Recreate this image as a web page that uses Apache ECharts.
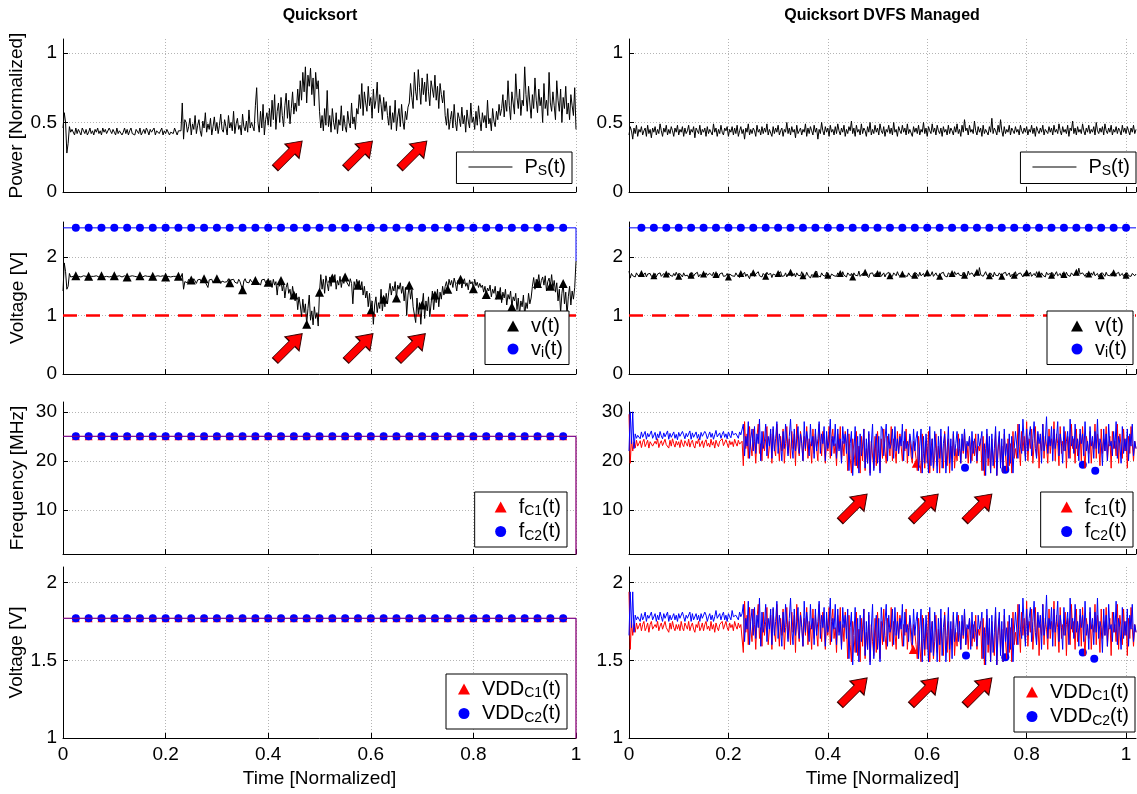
<!DOCTYPE html>
<html>
<head>
<meta charset="utf-8">
<script src="https://cdn.jsdelivr.net/npm/echarts@6/dist/echarts.min.js"></script>
<style>
  html, body { margin: 0; padding: 0; background: #fff; }
  #main { width: 1137px; height: 794px; }
</style>
</head>
<body>
<div id="main"></div>
<script>
// ---- data (sample step 0.0025 of normalized time) ----
// left column: Quicksort (t = 0..1), right column: Quicksort DVFS Managed (t = 0..1.02)
var powerLeft = [0.46,0.57,0.50,0.28,0.35,0.47,0.43,0.45,
  0.44,0.41,0.46,0.42,0.45,0.43,0.41,0.46,0.44,0.42,
  0.45,0.41,0.43,0.46,0.42,0.44,0.41,0.45,0.43,0.46,
  0.42,0.44,0.41,0.46,0.43,0.45,0.42,0.41,0.46,0.44,
  0.42,0.45,0.43,0.41,0.46,0.42,0.44,0.45,0.41,0.43,
  0.46,0.42,0.45,0.41,0.44,0.46,0.42,0.43,0.41,0.45,
  0.44,0.42,0.46,0.41,0.43,0.45,0.42,0.46,0.44,0.41,
  0.45,0.43,0.42,0.46,0.41,0.44,0.45,0.42,0.43,0.46,
  0.41,0.44,0.42,0.45,0.46,0.41,0.43,0.44,0.42,0.46,
  0.45,0.41,0.44,0.43,
  0.44,0.64,0.38,0.52,
  0.50,0.43,0.47,0.53,0.41,0.49,0.45,0.55,0.42,0.48,
  0.52,0.44,0.40,0.51,0.46,0.57,0.43,0.49,0.45,0.53,
  0.41,0.47,0.54,0.44,0.50,0.42,0.48,0.56,0.45,0.43,
  0.52,0.47,0.41,0.55,0.46,0.50,0.44,0.58,0.42,0.49,
  0.53,0.45,0.48,0.41,0.56,0.47,0.44,0.51,0.43,0.59,
  0.46,0.50,
  0.47,0.44,0.62,0.75,0.50,0.43,0.58,0.46,0.63,0.41,0.52,0.57,0.48,
  0.60,0.47,0.66,0.52,0.70,0.45,0.58,0.64,0.50,0.68,0.55,0.47,
  0.62,0.71,0.53,0.66,0.49,0.60,0.72,0.56,0.64,0.58,0.74,0.62,
  0.80,0.66,0.86,0.72,0.90,0.64,0.84,0.76,0.89,0.70,0.82,0.62,0.86,0.74,0.80,
  0.58,0.46,0.55,0.44,0.60,0.48,
  0.73,0.47,0.55,0.43,0.60,0.50,0.45,0.57,0.42,0.52,0.48,0.62,
  0.44,0.55,0.47,0.43,0.58,0.50,0.46,0.64,0.49,0.54,0.45,0.60,
  0.56,0.70,0.60,0.78,0.55,0.72,0.64,0.58,0.76,0.62,0.68,0.53,
  0.74,0.60,0.66,0.79,0.57,0.70,0.63,0.52,0.68,0.58,0.65,0.55,
  0.48,0.62,0.45,0.57,0.50,0.66,0.44,0.54,0.60,0.47,0.63,0.51,0.45,0.58,0.52,0.61,
  0.64,0.78,0.68,0.60,0.86,0.72,0.66,0.88,0.75,0.63,0.82,0.70,0.79,0.65,
  0.85,0.72,0.62,0.80,0.74,0.68,0.84,0.66,0.76,0.60,0.78,0.70,0.64,0.73,
  0.55,0.48,0.60,0.45,0.52,0.58,0.46,0.63,0.50,0.44,
  0.57,0.53,0.47,0.61,0.49,0.55,0.43,0.59,0.51,0.46,
  0.64,0.50,0.54,0.45,0.58,0.48,0.62,0.52,0.44,0.57,
  0.50,0.55,0.46,0.66,0.49,0.53,0.44,0.60,0.51,0.47,
  0.58,0.52,0.63,0.55,
  0.60,0.70,0.54,0.66,0.58,0.80,0.62,0.52,0.72,0.64,
  0.56,0.85,0.68,0.60,0.74,0.55,0.66,0.62,0.90,0.70,
  0.58,0.76,0.64,0.53,0.70,0.60,0.82,0.66,0.57,0.74,
  0.62,0.68,0.50,0.78,0.60,0.66,0.55,0.86,0.64,0.58,
  0.72,0.62,0.52,0.80,0.66,0.58,0.74,0.50,0.68,0.60,
  0.76,0.56,0.64,0.52,0.70,0.62,0.55,0.75,
  0.45];

var voltLeft = [1.42,1.90,1.75,1.45,1.50,1.72,1.66,1.68,
  1.67,1.66,1.68,1.67,1.67,1.68,1.66,1.67,1.68,1.66,
  1.67,1.68,1.67,1.66,1.67,1.68,1.67,1.66,1.68,1.67,
  1.66,1.67,1.68,1.67,1.66,1.68,1.67,1.67,1.66,1.68,
  1.67,1.66,1.68,1.67,1.67,1.66,1.68,1.67,1.66,1.67,
  1.68,1.67,1.66,1.68,1.67,1.67,1.68,1.66,1.67,1.68,
  1.66,1.67,1.68,1.67,1.66,1.67,1.68,1.66,1.67,1.68,
  1.67,1.66,1.67,1.68,1.67,1.66,1.68,1.67,1.67,1.66,
  1.68,1.67,1.66,1.68,1.67,1.67,1.66,1.68,1.67,1.66,
  1.67,1.68,1.67,1.66,
  1.66,1.72,1.45,1.58,
  1.60,1.56,1.62,1.58,1.61,1.57,1.63,1.59,1.55,1.61,
  1.58,1.62,1.56,1.60,1.63,1.57,1.59,1.48,1.61,1.58,
  1.62,1.56,1.60,1.59,1.63,1.57,1.61,1.55,1.59,1.62,
  1.57,1.60,1.58,1.63,1.56,1.61,1.59,1.62,1.57,1.60,
  1.55,1.62,1.58,1.61,1.44,1.59,1.63,1.57,1.60,1.56,
  1.62,1.58,1.61,1.55,1.60,1.63,1.57,1.59,1.52,1.61,
  1.58,1.62,1.56,1.60,1.57,
  1.55,1.60,1.48,1.62,1.52,1.58,1.35,1.57,1.50,1.60,
  1.42,1.55,1.30,1.48,1.56,1.38,1.45,1.28,1.50,1.35,
  1.25,1.38,1.10,1.32,1.18,0.98,1.28,1.05,1.20,0.85,
  1.12,1.35,0.92,1.08,0.84,1.15,0.95,1.05,0.82,
  1.40,1.70,1.45,1.62,1.38,1.68,1.55,1.42,1.66,1.50,1.64,
  1.58,1.70,1.45,1.60,1.52,1.67,1.48,1.62,1.55,1.66,1.58,
  1.60,1.50,1.63,1.55,1.20,1.58,1.48,1.62,1.52,1.60,1.44,1.58,1.35,1.50,
  1.30,1.42,1.15,1.38,1.08,1.25,0.85,1.18,1.32,
  1.05,1.22,1.12,1.45,1.08,1.28,1.15,1.38,1.20,
  1.40,1.55,1.35,1.50,1.42,1.58,1.30,1.52,1.45,1.56,
  1.38,1.50,1.25,1.48,1.00,1.35,1.52,1.28,1.44,1.15,
  1.12,0.88,1.30,1.02,1.22,0.85,1.18,1.38,0.95,1.25,1.08,1.32,
  0.98,1.20,1.42,1.10,1.35,1.22,1.45,1.15,1.40,1.28,1.50,1.35,
  1.50,1.58,1.45,1.62,1.52,1.60,1.48,1.64,1.55,1.42,1.60,1.53,1.62,1.47,
  1.58,1.63,1.50,1.56,1.44,1.61,1.54,1.58,1.46,1.62,1.51,1.57,1.48,1.55,
  1.48,1.52,1.40,1.50,1.36,1.47,1.42,1.52,1.32,1.45,1.38,1.50,1.28,1.42,
  1.35,1.48,1.22,1.40,1.30,1.45,1.18,1.36,1.28,1.42,1.15,1.32,1.25,1.38,
  1.10,1.30,1.02,1.25,1.15,1.35,1.00,1.22,1.12,1.38,1.20,1.30,
  1.50,1.65,1.45,1.62,1.55,1.70,1.48,1.60,1.66,1.52,
  1.68,1.42,1.58,1.64,1.50,1.70,1.46,1.60,1.40,1.56,
  1.25,1.45,1.05,1.38,1.55,1.20,1.40,1.00,1.32,1.50,1.18,1.42,1.28,1.48,
  1.93];

var powerRight = [0.41,0.47,0.44,0.38,0.46,0.42,0.48,0.40,0.45,0.43,
  0.47,0.41,0.44,0.46,0.40,0.48,0.42,0.45,0.39,0.46,
  0.43,0.47,0.41,0.45,0.42,0.49,0.44,0.40,0.46,0.43,
  0.48,0.41,0.45,0.42,0.47,0.44,0.40,0.46,0.43,0.48,
  0.41,0.45,0.43,0.47,0.40,0.46,0.42,0.44,0.48,0.41,
  0.45,0.43,0.47,0.39,0.46,0.44,0.42,0.48,0.41,0.45,
  0.43,0.46,0.40,0.47,0.42,0.45,0.44,0.41,0.49,0.43,
  0.46,0.40,0.45,0.42,0.48,0.43,0.41,0.46,0.44,0.47,
  0.40,0.45,0.43,0.47,0.41,0.46,0.42,0.48,0.40,0.44,
  0.47,0.42,0.45,0.38,0.46,0.43,0.49,0.41,0.45,0.42,
  0.46,0.44,0.40,0.48,0.43,0.45,0.41,0.47,0.42,0.46,
  0.43,0.49,0.41,0.45,0.44,0.40,0.47,0.42,0.46,0.43,
  0.48,0.41,0.44,0.46,0.40,0.45,0.43,0.50,0.42,0.46,
  0.41,0.47,0.43,0.45,0.39,0.48,0.42,0.44,0.46,0.41,
  0.45,0.43,0.49,0.40,0.46,0.42,0.47,0.44,0.41,0.48,
  0.43,0.46,0.38,0.45,0.42,0.50,0.44,0.41,0.47,0.43,
  0.46,0.40,0.48,0.43,0.45,0.41,0.47,0.42,0.49,0.44,
  0.41,0.46,0.43,0.48,0.40,0.45,0.42,0.47,0.44,0.51,
  0.42,0.46,0.40,0.48,0.43,0.45,0.41,0.49,0.42,0.46,
  0.44,0.40,0.47,0.43,0.50,0.41,0.45,0.42,0.48,0.43,
  0.46,0.41,0.49,0.44,0.42,0.47,0.40,0.45,0.43,0.48,
  0.42,0.46,0.41,0.50,0.43,0.45,0.40,0.47,0.44,0.42,
  0.48,0.43,0.46,0.41,0.49,0.42,0.45,0.44,0.40,0.47,
  0.43,0.46,0.42,0.48,0.41,0.45,0.43,0.50,0.42,0.46,
  0.40,0.47,0.44,0.42,0.49,0.43,0.46,0.41,0.48,0.44,
  0.42,0.46,0.40,0.47,0.43,0.45,0.41,0.48,0.42,0.46,
  0.44,0.41,0.47,0.43,0.49,0.42,0.45,0.40,0.48,0.43,
  0.52,0.44,0.46,0.41,0.48,0.43,0.45,0.42,0.51,0.44,
  0.41,0.47,0.43,0.46,0.40,0.48,0.42,0.45,0.44,0.41,
  0.47,0.43,0.53,0.42,0.46,0.44,0.41,0.48,0.43,0.52,
  0.44,0.40,0.47,0.42,0.45,0.43,0.48,0.41,0.46,0.44,
  0.42,0.47,0.43,0.45,0.41,0.48,0.44,0.42,0.46,0.43,
  0.47,0.41,0.45,0.43,0.48,0.42,0.46,0.40,0.47,0.44,
  0.42,0.46,0.43,0.48,0.41,0.45,0.44,0.42,0.47,0.43,
  0.46,0.41,0.48,0.43,0.45,0.42,0.49,0.44,0.41,0.47,
  0.43,0.45,0.42,0.48,0.40,0.46,0.44,0.51,0.42,0.46,
  0.41,0.47,0.43,0.45,0.42,0.49,0.44,0.41,0.46,0.43,
  0.48,0.42,0.45,0.43,0.47,0.41,0.50,0.44,0.42,0.46,
  0.43,0.47,0.41,0.49,0.44,0.42,0.46,0.43,0.48,0.41,
  0.45,0.43,0.47,0.42,0.46,0.44,0.41,0.48,0.43,0.46,
  0.42,0.47,0.44,0.41,0.46,0.43,0.48,0.42,0.45];

var voltRight = [1.76,1.64,1.72,1.68,1.71,1.66,1.73,1.69,1.70,1.67,
  1.72,1.68,1.70,1.73,1.66,1.71,1.69,1.72,1.67,1.70,
  1.68,1.72,1.66,1.71,1.69,1.73,1.67,1.70,1.72,1.68,
  1.71,1.66,1.73,1.69,1.70,1.67,1.72,1.68,1.74,1.69,
  1.67,1.72,1.70,1.66,1.73,1.68,1.71,1.69,1.65,1.72,
  1.69,1.73,1.67,1.71,1.68,1.74,1.66,1.70,1.72,1.68,
  1.71,1.67,1.73,1.69,1.66,1.72,1.70,1.68,1.74,1.67,
  1.70,1.72,1.65,1.71,1.69,1.73,1.67,1.70,1.68,1.72,
  1.66,1.71,1.74,1.68,1.70,1.67,1.73,1.69,1.71,1.65,
  1.72,1.68,1.70,1.74,1.67,1.71,1.69,1.63,1.72,1.68,
  1.73,1.67,1.71,1.69,1.75,1.68,1.70,1.66,1.72,1.69,
  1.67,1.74,1.70,1.68,1.72,1.65,1.71,1.73,1.69,1.67,
  1.72,1.69,1.75,1.67,1.70,1.68,1.73,1.66,1.71,1.69,
  1.74,1.67,1.70,1.72,1.66,1.73,1.69,1.71,1.68,1.75,
  1.68,1.71,1.67,1.74,1.69,1.72,1.64,1.70,1.73,1.68,
  1.71,1.76,1.68,1.70,1.66,1.73,1.69,1.72,1.67,1.74,
  1.69,1.72,1.66,1.71,1.74,1.68,1.70,1.67,1.73,1.69,
  1.72,1.67,1.75,1.69,1.71,1.66,1.73,1.70,1.68,1.72,
  1.66,1.73,1.69,1.71,1.68,1.76,1.67,1.70,1.72,1.68,
  1.74,1.69,1.71,1.65,1.72,1.70,1.73,1.67,1.71,1.69,
  1.72,1.68,1.75,1.67,1.70,1.73,1.66,1.71,1.69,1.74,
  1.68,1.71,1.67,1.73,1.70,1.68,1.75,1.69,1.72,1.66,
  1.71,1.74,1.68,1.70,1.67,1.73,1.69,1.71,1.65,1.72,
  1.69,1.73,1.70,1.67,1.74,1.68,1.71,1.72,1.66,1.70,
  1.73,1.68,1.71,1.69,1.75,1.67,1.70,1.73,1.68,1.71,
  1.67,1.72,1.69,1.74,1.68,1.70,1.66,1.73,1.71,1.69,
  1.72,1.68,1.75,1.70,1.67,1.73,1.69,1.71,1.68,1.74,
  1.69,1.72,1.67,1.76,1.70,1.68,1.73,1.71,1.66,1.72,
  1.74,1.69,1.82,1.70,1.73,1.67,1.71,1.75,1.69,1.72,
  1.68,1.73,1.70,1.66,1.74,1.69,1.71,1.68,1.73,1.70,
  1.67,1.72,1.69,1.74,1.68,1.71,1.73,1.66,1.70,1.72,
  1.69,1.75,1.67,1.71,1.68,1.73,1.70,1.66,1.72,1.69,
  1.73,1.68,1.71,1.74,1.67,1.70,1.72,1.68,1.75,1.69,
  1.71,1.67,1.73,1.69,1.72,1.66,1.74,1.70,1.68,1.72,
  1.69,1.73,1.67,1.71,1.75,1.68,1.70,1.72,1.66,1.73,
  1.70,1.68,1.74,1.69,1.71,1.67,1.73,1.70,1.68,1.72,
  1.74,1.69,1.81,1.71,1.68,1.73,1.70,1.67,1.72,1.69,
  1.71,1.67,1.73,1.69,1.75,1.68,1.70,1.72,1.66,1.71,
  1.68,1.73,1.70,1.67,1.74,1.69,1.71,1.68,1.72,1.70,
  1.73,1.67,1.71,1.69,1.74,1.68,1.70,1.72,1.67,1.71,
  1.69,1.73,1.68,1.71,1.67,1.72,1.70,1.68,1.71];

var freqC1Right = [29.5,19.5,24.5,22.0,23.8,22.6,24.2,23.0,
  23.2,24.1,22.7,23.8,24.4,22.9,23.5,24.2,22.6,23.9,
  24.3,23.0,22.8,24.0,23.4,24.5,22.7,23.6,24.1,23.1,
  22.9,24.4,23.3,23.7,22.6,24.2,23.0,24.5,23.5,22.8,
  24.0,23.2,23.9,22.7,24.3,23.4,22.9,24.1,23.6,23.0,
  24.4,22.8,23.7,24.2,23.1,22.6,24.0,23.5,24.5,22.9,
  23.3,24.1,22.7,23.8,24.3,23.0,23.6,22.8,24.4,23.2,
  23.9,22.6,24.2,23.4,22.9,24.0,23.7,24.5,23.1,22.8,
  24.3,23.5,22.7,24.1,23.3,23.9,22.9,24.4,23.6,23.0,
  24.2,23.4,23.8,24.0,
  19.0,28.0,22.5,25.5,20.5,27.0,23.0,21.0,26.5,24.0,
  19.5,25.0,27.5,21.5,23.5,20.0,26.0,22.0,24.5,27.0,
  20.5,23.0,25.5,19.5,26.5,22.5,21.0,27.5,24.0,20.0,
  25.0,22.0,26.5,19.5,23.5,27.0,21.5,24.5,20.5,26.0,
  22.5,25.5,19.0,27.5,23.0,21.0,26.0,24.0,20.0,25.0,
  22.0,27.0,20.5,24.5,23.5,19.5,26.5,21.5,25.5,22.5,
  20.0,27.5,24.0,21.0,26.0,23.0,19.5,25.0,22.0,27.0,
  20.5,24.5,26.5,21.5,23.5,19.0,25.5,22.5,27.0,20.0,
  24.0,21.0,26.0,23.5,
  18.0,25.5,20.5,17.5,24.5,22.0,19.0,26.0,18.5,23.0,
  17.5,25.0,20.0,26.5,18.0,22.5,19.5,25.5,17.5,24.0,
  21.0,18.5,25.0,19.0,26.0,21.5,18.0,24.5,
  20.5,26.5,22.0,19.5,25.0,23.5,21.0,27.0,20.0,24.5,
  22.5,19.5,26.0,21.5,25.5,23.0,20.0,24.0,22.0,26.5,
  19.5,23.5,25.0,21.0,19.5,24.0,22.5,20.5,
  18.0,25.0,20.0,17.5,25.5,21.5,18.5,24.0,19.5,26.0,
  17.5,22.5,24.5,18.0,21.0,25.5,19.0,23.0,17.5,25.0,
  21.0,18.5,26.0,22.0,19.0,24.5,17.5,23.0,20.5,25.5,
  18.5,22.5,
  20.0,25.5,22.5,19.5,24.5,21.5,26.0,20.5,23.5,19.5,
  25.0,22.0,20.0,24.0,21.0,25.5,19.5,23.0,22.0,24.5,
  18.0,25.0,17.0,22.5,25.5,19.0,23.5,17.5,24.5,20.5,
  18.5,26.0,17.0,22.0,25.0,19.5,23.0,17.5,25.5,21.0,
  18.0,24.5,19.0,23.5,17.5,26.0,20.5,22.5,
  20.5,27.5,23.0,19.0,26.0,22.0,25.0,21.0,28.0,20.0,
  24.5,22.5,26.5,19.5,23.5,27.0,21.0,25.5,18.5,24.0,
  22.0,27.5,20.5,25.0,23.0,19.5,26.5,21.5,24.5,22.5,
  28.0,20.0,25.5,23.5,19.0,27.0,21.5,24.0,22.0,26.0,
  18.5,25.0,23.0,20.5,27.5,22.5,24.5,19.5,26.5,21.0,
  23.5,25.5,20.0,27.0,22.0,18.5,25.0,23.5,21.5,26.0,
  19.5,24.0,22.5,27.5,20.5,25.5,23.0,19.0,26.5,21.5,
  24.5,22.0,27.0,20.0,23.5,25.0,18.5,26.0,22.5,24.0,
  21.0,27.5,19.5,25.5,23.0,20.5,26.5,22.0,24.5,18.5,
  25.0,21.5,27.0,23.5,20.0,24.0,22.5];

var freqC2Right = [22.0,30.0,23.5,30.0,22.5,25.5,24.6,25.2,
  25.4,24.5,25.9,24.8,25.2,26.0,24.4,25.6,24.9,25.3,
  26.1,24.6,25.0,25.8,24.3,25.5,24.7,26.0,25.1,24.5,
  25.7,24.9,25.3,26.1,24.4,25.6,24.8,25.2,25.9,24.6,
  25.4,24.3,25.8,25.0,24.7,26.0,25.3,24.5,25.6,24.9,
  25.2,26.1,24.4,25.7,24.8,25.1,25.9,24.6,25.4,24.3,
  25.8,25.0,24.7,26.0,25.5,24.5,25.2,25.9,24.8,25.6,
  24.4,25.3,26.2,24.9,25.1,25.7,24.6,25.4,26.0,24.8,
  25.5,24.5,25.9,25.2,24.7,26.1,25.3,24.9,25.6,25.8,
  24.6,25.9,25.3,25.7,
  27.5,21.0,25.0,23.0,28.0,20.5,24.5,26.5,22.0,27.0,
  21.5,25.5,23.5,28.5,20.0,26.0,22.5,24.0,27.5,21.0,
  25.0,23.0,26.5,20.5,27.0,22.0,24.5,28.0,21.5,25.5,
  23.5,20.0,26.0,22.5,27.5,24.0,21.0,25.0,28.5,23.0,
  20.5,26.5,22.0,24.5,27.0,21.5,25.5,23.5,20.0,28.0,
  22.5,26.0,24.0,21.0,27.5,23.0,25.0,20.5,26.5,22.0,
  24.5,28.0,21.5,25.5,23.5,27.0,20.0,26.0,22.5,24.0,
  28.5,21.0,25.0,23.0,27.5,20.5,26.5,22.0,24.5,19.5,
  27.0,23.5,25.5,21.5,
  26.5,18.0,23.5,26.0,17.0,22.0,27.0,19.0,25.0,17.5,
  25.5,21.0,23.0,26.5,18.5,24.5,19.5,26.0,17.0,23.5,
  27.5,18.0,22.5,25.5,19.5,25.0,17.5,27.0,
  26.5,21.0,24.5,27.5,20.0,25.5,22.5,23.5,26.5,20.5,
  27.0,22.0,24.5,21.5,25.0,23.0,27.5,20.0,26.0,22.5,
  24.0,21.0,25.5,23.5,20.5,26.5,22.0,24.5,
  26.0,18.0,23.0,26.5,17.5,25.0,19.5,25.5,22.0,17.5,
  27.0,19.0,24.5,18.5,26.0,22.5,17.5,25.0,20.5,26.5,
  18.5,23.5,25.5,17.5,22.0,27.0,19.5,24.5,18.0,26.0,
  21.0,23.5,
  26.0,21.0,24.5,19.5,25.5,22.0,26.5,20.5,24.0,23.0,
  25.0,19.5,26.0,21.5,24.5,22.5,20.0,25.5,23.0,24.0,
  26.0,18.0,23.5,17.0,26.5,20.5,25.0,17.5,25.5,19.0,
  22.5,27.0,17.0,23.0,26.0,18.5,24.5,17.5,26.5,21.0,
  23.5,18.0,25.5,19.5,25.0,17.5,22.5,26.0,
  26.0,20.5,27.5,23.0,21.5,28.5,24.0,20.0,26.5,22.0,
  25.0,27.0,21.0,24.5,28.0,22.5,20.5,26.0,23.5,25.5,
  19.5,27.5,22.0,24.0,29.0,21.5,25.0,23.0,27.0,20.0,
  26.5,22.5,24.5,28.0,21.0,25.5,23.5,19.5,27.0,22.0,
  24.0,26.0,20.5,28.5,23.0,25.0,21.5,27.5,22.5,24.5,
  20.0,26.5,23.5,25.5,21.0,28.0,22.0,24.0,19.5,27.0,
  23.0,25.0,20.5,26.0,22.5,28.5,21.5,24.5,23.5,19.0,
  26.5,22.0,25.5,20.0,27.5,23.0,24.0,21.0,26.0,22.5,
  28.0,20.5,25.0,23.5,19.5,27.0,21.5,24.5,22.0,26.5,
  20.0,25.5,23.0,27.5,21.0,24.0,22.5];

var vddC1Right = [1.94,1.57,1.75,1.66,1.73,1.68,1.74,1.70,
  1.70,1.74,1.69,1.73,1.75,1.69,1.71,1.74,1.68,1.73,
  1.75,1.70,1.69,1.73,1.71,1.75,1.69,1.72,1.74,1.70,
  1.69,1.75,1.71,1.72,1.68,1.74,1.70,1.75,1.71,1.69,
  1.73,1.70,1.73,1.69,1.75,1.71,1.69,1.74,1.72,1.70,
  1.75,1.69,1.72,1.74,1.70,1.68,1.73,1.71,1.75,1.69,
  1.71,1.74,1.69,1.73,1.75,1.70,1.72,1.69,1.75,1.70,
  1.73,1.68,1.74,1.71,1.69,1.73,1.72,1.75,1.70,1.69,
  1.75,1.71,1.69,1.74,1.71,1.73,1.69,1.75,1.72,1.70,
  1.74,1.71,1.73,1.73,
  1.55,1.88,1.68,1.79,1.60,1.84,1.70,1.62,1.83,1.73,
  1.57,1.77,1.86,1.64,1.71,1.59,1.81,1.66,1.75,1.84,
  1.60,1.70,1.79,1.57,1.83,1.68,1.62,1.86,1.73,1.59,
  1.77,1.66,1.83,1.57,1.71,1.84,1.64,1.75,1.60,1.81,
  1.68,1.79,1.55,1.86,1.70,1.62,1.81,1.73,1.59,1.77,
  1.66,1.84,1.60,1.75,1.71,1.57,1.83,1.64,1.79,1.68,
  1.59,1.86,1.73,1.62,1.81,1.70,1.57,1.77,1.66,1.84,
  1.60,1.75,1.83,1.64,1.71,1.55,1.79,1.68,1.84,1.59,
  1.73,1.62,1.81,1.71,
  1.51,1.79,1.60,1.49,1.75,1.66,1.55,1.81,1.53,1.70,
  1.49,1.77,1.59,1.83,1.51,1.68,1.57,1.79,1.49,1.73,
  1.62,1.53,1.77,1.55,1.81,1.64,1.51,1.75,
  1.60,1.83,1.66,1.57,1.77,1.71,1.62,1.84,1.59,1.75,
  1.68,1.57,1.81,1.64,1.79,1.70,1.59,1.73,1.66,1.83,
  1.57,1.71,1.77,1.62,1.57,1.73,1.68,1.60,
  1.51,1.77,1.59,1.49,1.79,1.64,1.53,1.73,1.57,1.81,
  1.49,1.68,1.75,1.51,1.62,1.79,1.55,1.70,1.49,1.77,
  1.62,1.53,1.81,1.66,1.55,1.75,1.49,1.70,1.60,1.79,
  1.53,1.68,
  1.59,1.79,1.68,1.57,1.75,1.64,1.81,1.60,1.71,1.57,
  1.77,1.66,1.59,1.73,1.62,1.79,1.57,1.70,1.66,1.75,
  1.51,1.77,1.47,1.68,1.79,1.55,1.71,1.49,1.75,1.60,
  1.53,1.81,1.47,1.66,1.77,1.57,1.70,1.49,1.79,1.62,
  1.51,1.75,1.55,1.71,1.49,1.81,1.60,1.68,
  1.60,1.86,1.70,1.55,1.81,1.66,1.77,1.62,1.88,1.59,
  1.75,1.68,1.83,1.57,1.71,1.84,1.62,1.79,1.53,1.73,
  1.66,1.86,1.60,1.77,1.70,1.57,1.83,1.64,1.75,1.68,
  1.88,1.59,1.79,1.71,1.55,1.84,1.64,1.73,1.66,1.81,
  1.53,1.77,1.70,1.60,1.86,1.68,1.75,1.57,1.83,1.62,
  1.71,1.79,1.59,1.84,1.66,1.53,1.77,1.71,1.64,1.81,
  1.57,1.73,1.68,1.86,1.60,1.79,1.70,1.55,1.83,1.64,
  1.75,1.66,1.84,1.59,1.71,1.77,1.53,1.81,1.68,1.73,
  1.62,1.86,1.57,1.79,1.70,1.60,1.83,1.66,1.75,1.53,
  1.77,1.64,1.84,1.71,1.59,1.73,1.68];

var vddC2Right = [1.66,1.94,1.71,1.94,1.68,1.79,1.76,1.78,
  1.79,1.75,1.80,1.76,1.78,1.81,1.75,1.79,1.77,1.78,
  1.81,1.76,1.77,1.80,1.75,1.79,1.76,1.81,1.78,1.75,
  1.80,1.77,1.78,1.81,1.75,1.79,1.76,1.78,1.80,1.76,
  1.79,1.75,1.80,1.77,1.76,1.81,1.78,1.75,1.79,1.77,
  1.78,1.81,1.75,1.80,1.76,1.77,1.80,1.76,1.79,1.75,
  1.80,1.77,1.76,1.81,1.79,1.75,1.78,1.80,1.76,1.79,
  1.75,1.78,1.82,1.77,1.77,1.80,1.76,1.79,1.81,1.76,
  1.79,1.75,1.80,1.78,1.76,1.82,1.78,1.77,1.79,1.80,
  1.76,1.81,1.78,1.80,
  1.86,1.62,1.77,1.70,1.88,1.60,1.75,1.83,1.66,1.84,
  1.64,1.79,1.71,1.90,1.59,1.81,1.68,1.73,1.86,1.62,
  1.77,1.70,1.83,1.60,1.84,1.66,1.75,1.88,1.64,1.79,
  1.71,1.59,1.81,1.68,1.86,1.73,1.62,1.77,1.90,1.70,
  1.60,1.83,1.66,1.75,1.84,1.64,1.79,1.71,1.59,1.88,
  1.68,1.81,1.73,1.62,1.86,1.70,1.77,1.60,1.83,1.66,
  1.75,1.88,1.64,1.79,1.71,1.84,1.59,1.81,1.68,1.73,
  1.90,1.62,1.77,1.70,1.86,1.60,1.83,1.66,1.75,1.57,
  1.84,1.71,1.79,1.64,
  1.83,1.51,1.71,1.81,1.47,1.66,1.84,1.55,1.77,1.49,
  1.79,1.62,1.70,1.83,1.53,1.75,1.57,1.81,1.47,1.71,
  1.86,1.51,1.68,1.79,1.57,1.77,1.49,1.84,
  1.83,1.62,1.75,1.86,1.59,1.79,1.68,1.71,1.83,1.60,
  1.84,1.66,1.75,1.64,1.77,1.70,1.86,1.59,1.81,1.68,
  1.73,1.62,1.79,1.71,1.60,1.83,1.66,1.75,
  1.81,1.51,1.70,1.83,1.49,1.77,1.57,1.79,1.66,1.49,
  1.84,1.55,1.75,1.53,1.81,1.68,1.49,1.77,1.60,1.83,
  1.53,1.71,1.79,1.49,1.66,1.84,1.57,1.75,1.51,1.81,
  1.62,1.71,
  1.81,1.62,1.75,1.57,1.79,1.66,1.83,1.60,1.73,1.70,
  1.77,1.57,1.81,1.64,1.75,1.68,1.59,1.79,1.70,1.73,
  1.81,1.51,1.71,1.47,1.83,1.60,1.77,1.49,1.79,1.55,
  1.68,1.84,1.47,1.70,1.81,1.53,1.75,1.49,1.83,1.62,
  1.71,1.51,1.79,1.57,1.77,1.49,1.68,1.81,
  1.81,1.60,1.86,1.70,1.64,1.90,1.73,1.59,1.83,1.66,
  1.77,1.84,1.62,1.75,1.88,1.68,1.60,1.81,1.71,1.79,
  1.57,1.86,1.66,1.73,1.92,1.64,1.77,1.70,1.84,1.59,
  1.83,1.68,1.75,1.88,1.62,1.79,1.71,1.57,1.84,1.66,
  1.73,1.81,1.60,1.90,1.70,1.77,1.64,1.86,1.68,1.75,
  1.59,1.83,1.71,1.79,1.62,1.88,1.66,1.73,1.57,1.84,
  1.70,1.77,1.60,1.81,1.68,1.90,1.64,1.75,1.71,1.55,
  1.83,1.66,1.79,1.59,1.86,1.70,1.73,1.62,1.81,1.68,
  1.88,1.60,1.77,1.71,1.57,1.84,1.64,1.75,1.66,1.83,
  1.59,1.79,1.70,1.86,1.62,1.73,1.68];

// markers that stand out of the dense DVFS bands
var marksFreqC1R = [[0.578, 19.5]];
var marksFreqC2R = [[0.676, 18.6], [0.757, 18.2], [0.913, 19.2], [0.938, 18.0]];
var marksVddC1R = [[0.572, 1.57]];
var marksVddC2R = [[0.678, 1.53], [0.757, 1.52], [0.913, 1.55], [0.936, 1.51]];

// constant levels
var supplyV = 2.5;          // v_i(t)
var supplyVEndLeft = 1.93;  // drop at the end of the left run
var thresholdV = 1.0;       // dashed red line
var freqLeft = 25;          // f_C1 = f_C2 (left)
var vddLeft = 1.77;         // VDD_C1 = VDD_C2 (left)
var markStep = 0.025;       // marker spacing

// arrow annotations (data coords)
var arrowsPowerL = [[0.44, 0.27], [0.577, 0.27], [0.683, 0.27]];
var arrowsVoltL = [[0.44, 0.46], [0.578, 0.46], [0.68, 0.46]];
var arrowsFreqR = [[0.452, 10.5], [0.595, 10.5], [0.703, 10.5]];
var arrowsVddR = [[0.452, 1.30], [0.595, 1.30], [0.703, 1.30]];

var FONT = 'Liberation Sans, Arial, sans-serif';
var BLUE = '#0000ff', RED = '#ff0000', BLACK = '#000000';
var SPAN_L = 1, SPAN_R = 1.02;

function toXY(vals, span) {
  var n = vals.length;
  return vals.map(function (v, i) { return [i * span / (n - 1), v]; });
}
function markersOf(vals, span) {
  var n = vals.length, out = [];
  var k = Math.round(markStep * (n - 1) / span);
  for (var i = k; i < n - 1; i += k) out.push([i * span / (n - 1), vals[i]]);
  return out;
}
function levelMarkers(level, span) {
  var out = [];
  for (var k = 1; k * markStep <= span - 0.015; k++) out.push([k * markStep, level]);
  return out;
}

var rows = [
  { top: 39, height: 153, min: 0, max: 1.1, step: 0.5, name: 'Power [Normalized]' },
  { top: 222, height: 152, min: 0, max: 2.6, step: 1, name: 'Voltage [V]' },
  { top: 402, height: 152, min: 1, max: 32, step: 10, name: 'Frequency [MHz]' },
  { top: 567, height: 171, min: 1, max: 2.1, step: 0.5, name: 'Voltage [V]' }
];
var cols = [{ left: 63, width: 513, span: SPAN_L }, { left: 629, width: 507, span: SPAN_R }];

var grids = [], xAxes = [], yAxes = [];
rows.forEach(function (r, ri) {
  cols.forEach(function (c, ci) {
    var g = grids.length;
    grids.push({ left: c.left, top: r.top, width: c.width, height: r.height });
    var bottom = ri === 3;
    xAxes.push({
      type: 'value', gridIndex: g, min: 0, max: c.span,
      minInterval: 0.2, maxInterval: 0.2,
      axisLine: { show: true, onZero: false, lineStyle: { color: BLACK, width: 1 } },
      axisTick: { show: true, inside: true, length: 5, lineStyle: { color: BLACK } },
      axisLabel: { show: bottom, color: BLACK, fontSize: 19, fontFamily: FONT, margin: 7,
        showMaxLabel: ci === 0 },
      splitLine: { show: true, showMaxLine: ci === 0,
        lineStyle: { color: '#b4b4b4', type: [1, 2], width: 1 } },
      name: bottom ? 'Time [Normalized]' : '', nameLocation: 'middle', nameGap: 31,
      nameTextStyle: { color: BLACK, fontSize: 19, fontFamily: FONT }
    });
    yAxes.push({
      type: 'value', gridIndex: g, min: r.min, max: r.max,
      minInterval: r.step, maxInterval: r.step,
      axisLine: { show: true, lineStyle: { color: BLACK, width: 1 } },
      axisTick: { show: true, inside: true, length: 5, lineStyle: { color: BLACK } },
      axisLabel: { color: BLACK, fontSize: 19, fontFamily: FONT, margin: 6,
        showMaxLabel: false, showMinLabel: (r.min % r.step) === 0 },
      splitLine: { show: true, showMaxLine: false, showMinLine: false,
        lineStyle: { color: '#b4b4b4', type: [1, 2], width: 1 } },
      name: ci === 0 ? r.name : '', nameLocation: 'middle', nameGap: 36,
      nameTextStyle: { color: BLACK, fontSize: 19, fontFamily: FONT }
    });
  });
});

var arrowPath = 'path://M10,0 L20,15 L14,15 L14,40 L6,40 L6,15 L0,15 Z';
function arrows(list) {
  return {
    symbol: arrowPath, symbolSize: [20, 38], symbolRotate: -45, silent: true,
    itemStyle: { color: RED, borderColor: '#3a0000', borderWidth: 1 },
    label: { show: false },
    data: list.map(function (p) { return { coord: p }; })
  };
}

function line(g, data, color, extra) {
  var s = { type: 'line', xAxisIndex: g, yAxisIndex: g, data: data, symbol: 'none', showSymbol: false,
    lineStyle: { color: color, width: 1 }, itemStyle: { color: color }, silent: true };
  for (var k in extra) s[k] = extra[k];
  return s;
}
function marks(g, data, color, shape, name, extra) {
  var s = { type: 'scatter', name: name, xAxisIndex: g, yAxisIndex: g, data: data, symbol: shape,
    symbolSize: shape === 'triangle' ? 9 : 8, itemStyle: { color: color, opacity: 1 }, silent: true };
  for (var k in extra) s[k] = extra[k];
  return s;
}

var series = [];
// row 1 power
series.push(line(0, toXY(powerLeft, SPAN_L), BLACK, { name: 'psL', markPoint: arrows(arrowsPowerL) }));
series.push(line(1, toXY(powerRight, SPAN_R), BLACK, { name: 'psR' }));
// row 2 voltage
[[2, voltLeft, SPAN_L, 'L'], [3, voltRight, SPAN_R, 'R']].forEach(function (d) {
  var g = d[0], span = d[2];
  series.push(line(g, [[0, thresholdV], [span, thresholdV]], RED,
    { lineStyle: { color: RED, width: 2.5, type: [14, 9] } }));
  var vi = d[3] === 'L' ? [[0, supplyV], [span, supplyV], [span, supplyVEndLeft]] : [[0, supplyV], [span, supplyV]];
  series.push(line(g, vi, BLUE));
  series.push(line(g, toXY(d[1], span), BLACK));
  series.push(marks(g, markersOf(d[1], span), BLACK, 'triangle', 'v' + d[3], { symbolSize: d[3] === 'L' ? 9 : 7 }));
  var vis = marks(g, levelMarkers(supplyV, span), BLUE, 'circle', 'vi' + d[3]);
  if (d[3] === 'L') vis.markPoint = arrows(arrowsVoltL);
  series.push(vis);
});
// row 3 frequency
series.push(line(4, [[0, freqLeft], [SPAN_L, freqLeft], [SPAN_L, 0]], RED));
series.push(marks(4, levelMarkers(freqLeft, SPAN_L), RED, 'triangle', 'f1L', { symbolSize: 8 }));
series.push(line(4, [[0, freqLeft], [SPAN_L, freqLeft], [SPAN_L, 0]], BLUE, { lineStyle: { color: BLUE, width: 1, opacity: 0.6 } }));
series.push(marks(4, levelMarkers(freqLeft, SPAN_L), BLUE, 'circle', 'f2L'));
series.push(line(5, toXY(freqC1Right, SPAN_R), RED));
series.push(marks(5, marksFreqC1R, RED, 'triangle', 'f1R'));
series.push(line(5, toXY(freqC2Right, SPAN_R), BLUE));
series.push(marks(5, marksFreqC2R, BLUE, 'circle', 'f2R', { markPoint: arrows(arrowsFreqR) }));
// row 4 core voltage
series.push(line(6, [[0, vddLeft], [SPAN_L, vddLeft], [SPAN_L, 0]], RED));
series.push(marks(6, levelMarkers(vddLeft, SPAN_L), RED, 'triangle', 'd1L', { symbolSize: 8 }));
series.push(line(6, [[0, vddLeft], [SPAN_L, vddLeft], [SPAN_L, 0]], BLUE, { lineStyle: { color: BLUE, width: 1, opacity: 0.6 } }));
series.push(marks(6, levelMarkers(vddLeft, SPAN_L), BLUE, 'circle', 'd2L'));
series.push(line(7, toXY(vddC1Right, SPAN_R), RED));
series.push(marks(7, marksVddC1R, RED, 'triangle', 'd1R'));
series.push(line(7, toXY(vddC2Right, SPAN_R), BLUE));
series.push(marks(7, marksVddC2R, BLUE, 'circle', 'd2R', { markPoint: arrows(arrowsVddR) }));

var legendText = {
  psL: '{p|P}{s|S}{m|(t)}', psR: '{p|P}{s|S}{m|(t)}',
  vL: '{p|v(t)}', vR: '{p|v(t)}',
  viL: '{p|v}{s|i}{m|(t)}', viR: '{p|v}{s|i}{m|(t)}',
  f1L: '{p|f}{s|C1}{m|(t)}', f2L: '{p|f}{s|C2}{m|(t)}',
  f1R: '{p|f}{s|C1}{m|(t)}', f2R: '{p|f}{s|C2}{m|(t)}',
  d1L: '{p|VDD}{s|C1}{m|(t)}', d2L: '{p|VDD}{s|C2}{m|(t)}',
  d1R: '{p|VDD}{s|C1}{m|(t)}', d2R: '{p|VDD}{s|C2}{m|(t)}'
};
function legend(names, right, top, isLine, padLeft) {
  return {
    orient: 'vertical', right: right, top: top, selectedMode: false,
    data: names.map(function (n) { return isLine ? { name: n, icon: 'rect' } : { name: n }; }),
    backgroundColor: '#fff', borderColor: BLACK, borderWidth: 1, borderRadius: 0,
    padding: isLine ? [5, 6, 5, padLeft] : [5, 6, 4, padLeft], itemGap: 3,
    itemWidth: isLine ? 44 : 12, itemHeight: isLine ? 1 : 11,
    formatter: function (n) { return legendText[n]; },
    textStyle: { color: BLACK, fontSize: 20, fontFamily: FONT,
      rich: {
        p: { fontSize: 20, fontFamily: FONT, color: BLACK, padding: [0, 0, 0, 7] },
        m: { fontSize: 20, fontFamily: FONT, color: BLACK },
        s: { fontSize: 14, fontFamily: FONT, color: BLACK, padding: [9, 0, 0, 0] }
      } }
  };
}

var option = {
  animation: false,
  backgroundColor: '#fff',
  grid: grids, xAxis: xAxes, yAxis: yAxes, series: series,
  legend: [
    legend(['psL'], 1137 - 572, 152, true, 12),
    legend(['psR'], 1, 152, true, 12),
    legend(['vL', 'viL'], 1137 - 569, 311, false, 22),
    legend(['vR', 'viR'], 4, 311, false, 24),
    legend(['f1L', 'f2L'], 1137 - 567, 492, false, 20),
    legend(['f1R', 'f2R'], 4, 492, false, 20),
    legend(['d1L', 'd2L'], 1137 - 567, 674, false, 12),
    legend(['d1R', 'd2R'], 2, 677, false, 12)
  ],
  graphic: [
    { type: 'text', x: 320, y: 8, style: { text: 'Quicksort', align: 'center', verticalAlign: 'top',
      font: 'bold 16px ' + FONT, fill: BLACK } },
    { type: 'text', x: 882, y: 8, style: { text: 'Quicksort DVFS Managed', align: 'center', verticalAlign: 'top',
      font: 'bold 16px ' + FONT, fill: BLACK } }
  ]
};

var chart = echarts.init(document.getElementById('main'), null, { renderer: 'canvas' });
chart.setOption(option);
</script>
</body>
</html>
